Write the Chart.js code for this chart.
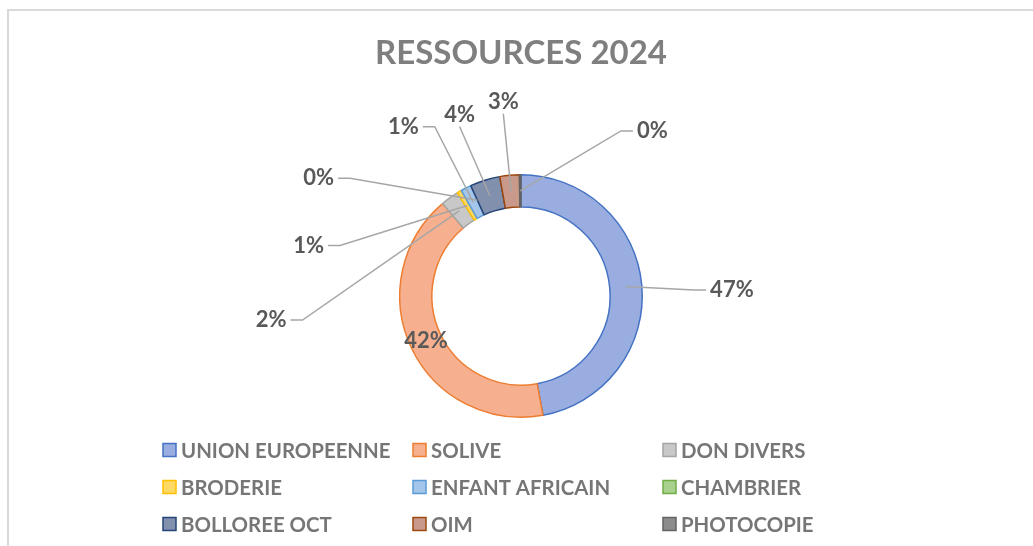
<!DOCTYPE html>
<html>
<head>
<meta charset="utf-8">
<script src="https://cdn.jsdelivr.net/npm/chart.js@4.4.1/dist/chart.umd.min.js"></script>
<style>
  html, body { margin: 0; padding: 0; background: #fff; overflow: hidden; }
  #wrap { position: relative; width: 1033px; height: 546px; }
  #frame { position: absolute; left: 7px; top: 9px; width: 1100px; height: 600px;
           border-left: 2px solid #d9d9d9; border-top: 2px solid #d9d9d9; }
  #chart { position: absolute; left: 0; top: 0; }
</style>
</head>
<body>
<div id="wrap">
  <div id="frame"></div>
  <canvas id="chart" width="1033" height="546"></canvas>
</div>
<script>
// Data (share of resources, %)
const categories = ['UNION EUROPEENNE', 'SOLIVE', 'DON DIVERS', 'BRODERIE', 'ENFANT AFRICAIN',
                    'CHAMBRIER', 'BOLLOREE OCT', 'OIM', 'PHOTOCOPIE'];
const shares = [47.1, 41.7, 2.4, 0.6, 1.4, 0, 4.0, 2.6, 0.2];

// Office-like colours: light fill, darker outline
const fillColors = ['#9aade0', '#f6b08f', '#c8c8c8', '#ffd966', '#a4c6ea',
                    '#a9d18e', '#8190ac', '#c99a8c', '#8c8c8c'];
const lineColors = ['#4472c4', '#ed7d31', '#a5a5a5', '#ffc000', '#5b9bd5',
                    '#70ad47', '#264478', '#9e480e', '#636363'];

// Where each percentage label sits: angle (deg, clockwise from top) and distance in outer radii.
// null = label drawn on the ring itself
const labelSpots = [
    { angle: 88.4, dist: 1.74 },
    null,
    { angle: 264.5, dist: 2.07 },
    { angle: 283.4, dist: 1.80 },
    { angle: 325.2, dist: 1.70 },
    { angle: 300.2, dist: 1.93 },
    { angle: 341.3, dist: 1.58 },
    { angle: 354.8, dist: 1.61 },
    { angle: 38.5, dist: 1.74 }
];

const FONT = 'Lato, "Open Sans", sans-serif';

// Percent labels with leader lines
const pieLabels = {
    id: 'pieLabels',
    afterDatasetsDraw(chart) {
        const ctx = chart.ctx;
        const meta = chart.getDatasetMeta(0);
        const total = shares.reduce((a, b) => a + b, 0);
        ctx.save();
        ctx.font = 'bold 22px ' + FONT;
        ctx.textAlign = 'center';
        ctx.textBaseline = 'middle';
        meta.data.forEach((arc, i) => {
            const p = arc.getProps(['x', 'y', 'startAngle', 'endAngle', 'innerRadius', 'outerRadius'], true);
            const mid = (p.startAngle + p.endAngle) / 2;
            const rMid = (p.innerRadius + p.outerRadius) / 2;
            const ax = p.x + Math.cos(mid) * rMid;
            const ay = p.y + Math.sin(mid) * rMid;
            const text = Math.round(shares[i] / total * 100) + '%';
            const spot = labelSpots[i];
            ctx.fillStyle = '#595959';
            if (!spot) {
                ctx.fillText(text, ax, ay);
                return;
            }
            const a = spot.angle * Math.PI / 180;
            const lx = p.x + Math.sin(a) * spot.dist * p.outerRadius;
            const ly = p.y - Math.cos(a) * spot.dist * p.outerRadius;
            const w = ctx.measureText(text).width;
            ctx.strokeStyle = '#a6a6a6';
            ctx.lineWidth = 1.5;
            ctx.beginPath();
            if (Math.abs(Math.sin(a)) < 0.35) {
                ctx.moveTo(lx, ly + 12);
                ctx.lineTo(ax, ay);
            } else {
                const side = lx < p.x ? 1 : -1;
                const ex = lx + side * (w / 2 + 4);
                ctx.moveTo(ex, ly);
                ctx.lineTo(ex + side * 12, ly);
                ctx.lineTo(ax, ay);
            }
            ctx.stroke();
            ctx.fillText(text, lx, ly);
        });
        ctx.restore();
    }
};

// Legend laid out as a 3-column grid
const gridLegend = {
    id: 'gridLegend',
    afterDraw(chart) {
        const ctx = chart.ctx;
        const cols = 3, colW = 250, rowH = 37, x0 = 163, y0 = 450, box = 13;
        ctx.save();
        ctx.font = 'bold 20.4px ' + FONT;
        ctx.textAlign = 'left';
        ctx.textBaseline = 'middle';
        categories.forEach((name, i) => {
            const x = x0 + (i % cols) * colW;
            const y = y0 + Math.floor(i / cols) * rowH;
            ctx.fillStyle = fillColors[i];
            ctx.fillRect(x, y - box / 2, box, box);
            ctx.strokeStyle = lineColors[i];
            ctx.lineWidth = 1.5;
            ctx.strokeRect(x, y - box / 2, box, box);
            ctx.fillStyle = '#767676';
            ctx.fillText(name, x + box + 5, y + 1);
        });
        ctx.restore();
    }
};

new Chart(document.getElementById('chart'), {
    type: 'doughnut',
    data: {
        labels: categories,
        datasets: [{
            data: shares,
            backgroundColor: fillColors,
            borderColor: lineColors,
            borderWidth: 1.5
        }]
    },
    options: {
        responsive: false,
        animation: false,
        cutout: '73.5%',
        layout: { padding: { top: 0, bottom: 128, left: 9, right: 0 } },
        plugins: {
            legend: { display: false },
            tooltip: { enabled: false },
            title: {
                display: true,
                text: 'RESSOURCES 2024',
                color: '#7f7f7f',
                font: { family: FONT, size: 33, weight: 'bold' },
                padding: { top: 34, bottom: 100.4 }
            }
        }
    },
    plugins: [pieLabels, gridLegend]
});
</script>
</body>
</html>
